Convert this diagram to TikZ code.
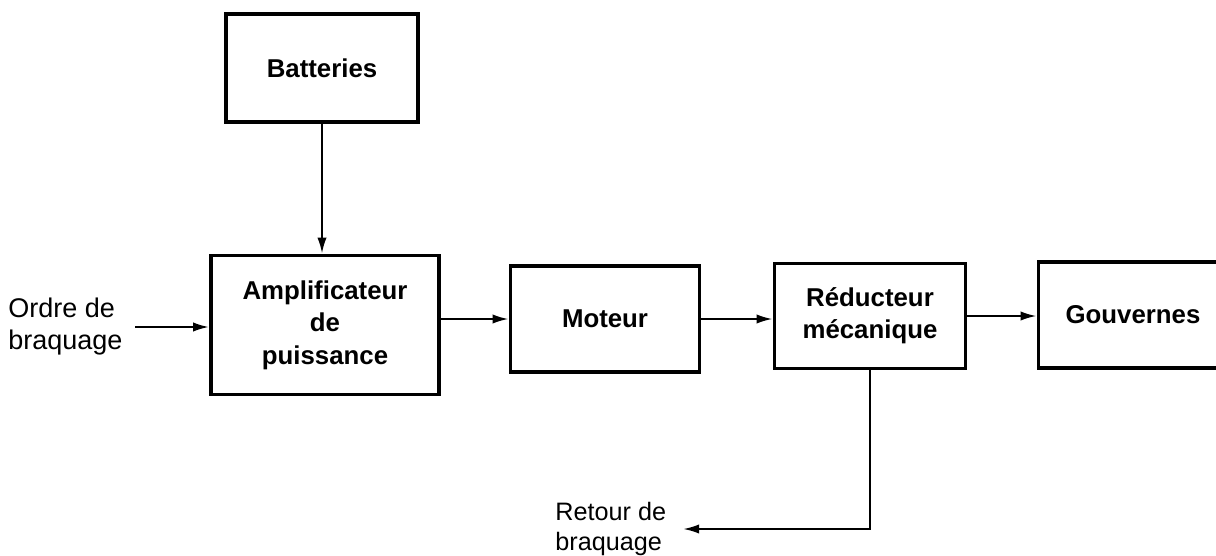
\documentclass[tikz,border=0pt]{standalone}
\usepackage{fontspec}
\setmainfont{Liberation Sans}
\usetikzlibrary{arrows.meta}
\tikzset{
  blk/.style={draw, line width=1.8pt, inner sep=0pt, align=center,
    font=\bfseries\fontsize{12.9}{16.2}\selectfont},
  arr/.style={line width=1.1pt, -{Latex[length=8pt,width=4.6pt]}},
  lbl/.style={align=left, inner sep=0pt, font=\fontsize{13.5}{16}\selectfont},
}
\begin{document}
\begin{tikzpicture}[x=0.5pt,y=-0.5pt]
\clip (0,0) rectangle (1216,556);
\fill[white] (0,0) rectangle (1216,556);
\node[blk, minimum width=96pt, minimum height=54pt] (bat) at (322,68) {Batteries};
\node[blk, minimum width=114pt, minimum height=69.5pt] (amp) at (325,325) {Amplificateur\\de\\puissance};
\node[blk, minimum width=94.5pt, minimum height=53pt] (mot) at (605,319) {Moteur};
\node[blk, minimum width=95.5pt, minimum height=52.5pt] (red) at (870,316) {Réducteur\\mécanique};
\node[blk, minimum width=94.5pt, minimum height=53pt] (gov) at (1133,315) {Gouvernes};
\node[lbl, anchor=west] (ordre) at (8,327) {Ordre de\\braquage};
\node[lbl, anchor=west, font=\fontsize{12.6}{15}\selectfont] (retour) at (555,529) {Retour de\\braquage};
\coordinate (in) at (135,327);
\coordinate (fb) at (683,529);
\draw[arr] (bat.south) -- (bat.south |- amp.north);
\draw[arr] (in) -- (in -| amp.west);
\draw[arr] (amp.east |- mot.west) -- (mot.west);
\draw[arr] (mot.east) -- (mot.east -| red.west);
\draw[arr] (red.east) -- (red.east -| gov.west);
\draw[arr] (red.south) |- (fb);
\end{tikzpicture}
\end{document}
